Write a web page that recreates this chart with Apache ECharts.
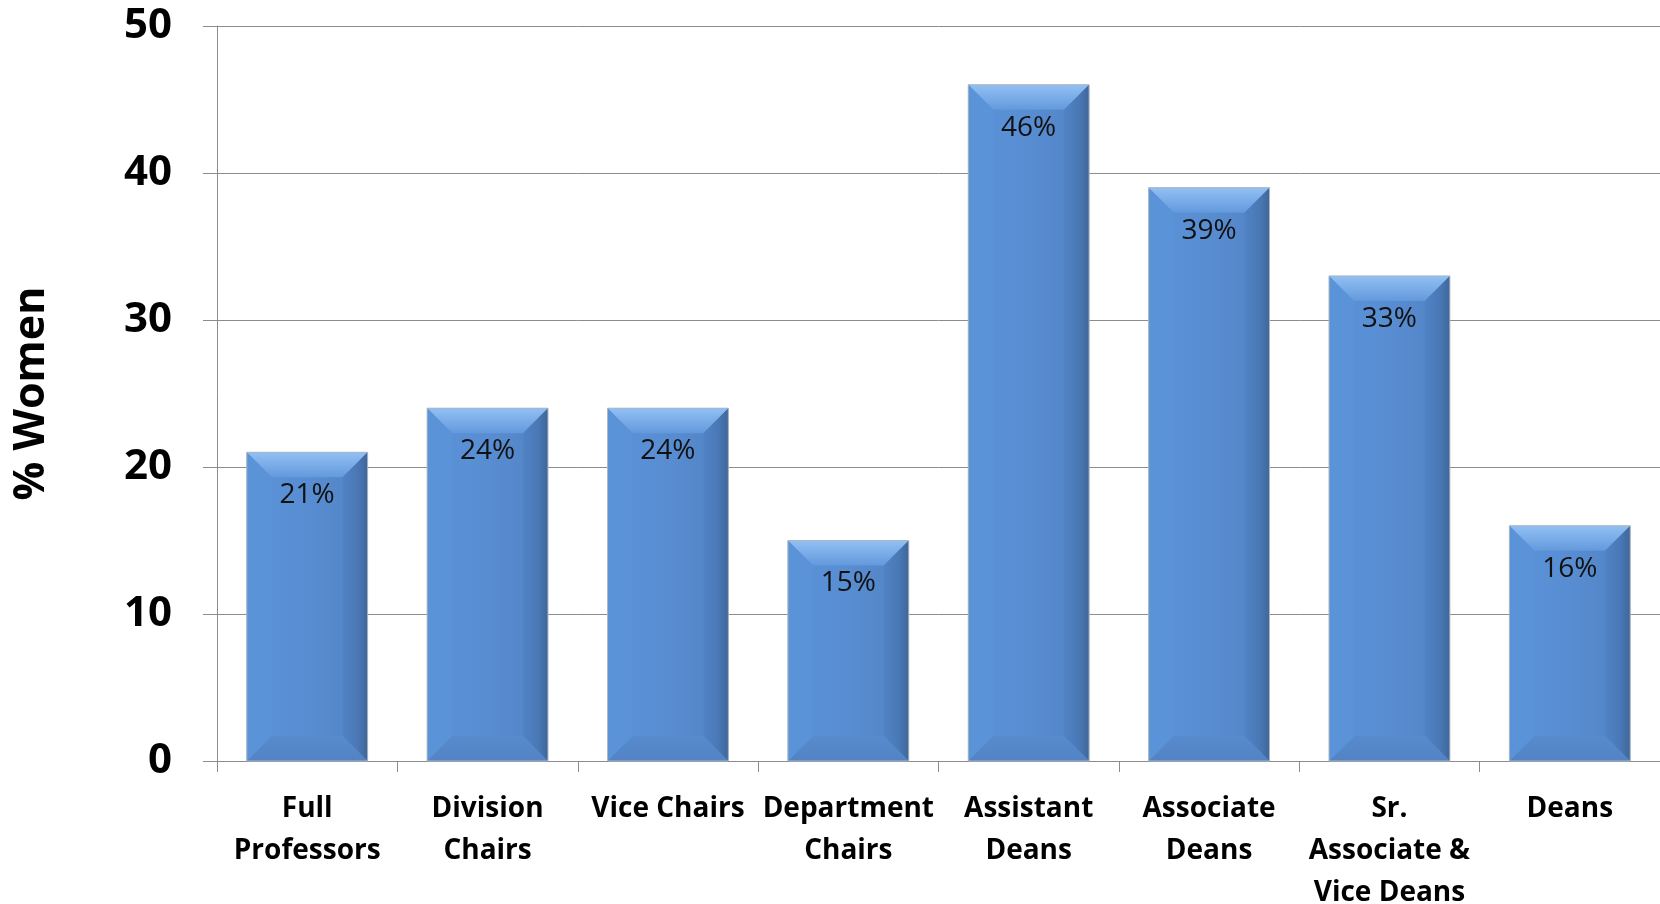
<!DOCTYPE html>
<html>
<head>
<meta charset="utf-8">
<script src="https://cdn.jsdelivr.net/npm/echarts@6/dist/echarts.min.js"></script>
<style>html,body{margin:0;padding:0;background:#fff}#c{width:1660px;height:904px}</style>
</head>
<body>
<div id="c"></div>
<script>
const categories = ["Full\nProfessors", "Division\nChairs", "Vice Chairs", "Department\nChairs", "Assistant\nDeans", "Associate\nDeans", "Sr.\nAssociate &\nVice Deans", "Deans"];
const values = [21, 24, 24, 15, 46, 39, 33, 16];
const yTicks = [0, 10, 20, 30, 40, 50];

const chart = echarts.init(document.getElementById('c'));
const FONT = '"Open Sans", "Noto Sans", sans-serif';

function renderItem(params, api) {
  const idx = api.value(0);
  const val = api.value(1);
  const top = api.coord([idx, val]);
  const bot = api.coord([idx, 0]);
  const catW = api.size([1, 0])[0];
  const w = catW * 0.67;
  const x0 = top[0] - w / 2, x1 = top[0] + w / 2;
  const y0 = top[1], y1 = bot[1];
  const b = Math.min(25, (y1 - y0) / 2);
  return {
    type: 'group',
    children: [
      { type: 'rect', shape: { x: x0, y: y0, width: w, height: y1 - y0 },
        style: { fill: new echarts.graphic.LinearGradient(0, 0, 1, 0, [
          { offset: 0, color: '#5b93d8' }, { offset: 0.5, color: '#588dd2' }, { offset: 0.8, color: '#5487c9' }, { offset: 1, color: '#4f7fbf' }]) } },
      { type: 'polygon', shape: { points: [[x0, y0], [x1, y0], [x1 - b, y0 + b], [x0 + b, y0 + b]] },
        style: { fill: new echarts.graphic.LinearGradient(0, 0, 0, 1, [
          { offset: 0, color: '#92c0f4' }, { offset: 1, color: '#6399dc' }]) } },
      { type: 'polygon', shape: { points: [[x1, y0], [x1, y1], [x1 - b, y1 - b], [x1 - b, y0 + b]] },
        style: { fill: new echarts.graphic.LinearGradient(0, 0, 1, 0, [
          { offset: 0, color: '#5083c4' }, { offset: 0.6, color: '#4a78b6' }, { offset: 1, color: '#3f6698' }]) } },
      { type: 'polygon', shape: { points: [[x0, y1], [x1, y1], [x1 - b, y1 - b], [x0 + b, y1 - b]] },
        style: { fill: new echarts.graphic.LinearGradient(0, 0, 0, 1, [
          { offset: 0, color: '#578bcd' }, { offset: 1, color: '#5283c4' }]) } },
      { type: 'polygon', shape: { points: [[x0, y0], [x0 + b, y0 + b], [x0 + b, y1 - b], [x0, y1]] },
        style: { fill: '#5b93d8' } },
      { type: 'rect', shape: { x: x0, y: y0, width: w, height: y1 - y0 },
        style: { fill: 'none', stroke: '#adb7c4', lineWidth: 1 } },
      { type: 'text', style: { text: val + '%', x: top[0], y: y0 + 43, align: 'center', verticalAlign: 'middle',
        font: '28px ' + FONT, fill: '#111' } }
    ]
  };
}

chart.setOption({
  animation: false,
  grid: { left: 217, right: 0, top: 26, bottom: 143, containLabel: false, outerBoundsMode: 'none' },
  xAxis: {
    type: 'category',
    data: categories,
    axisLine: { lineStyle: { color: '#8c8c8c', width: 1 } },
    axisTick: { show: true, length: 11, lineStyle: { color: '#8c8c8c' } },
    axisLabel: { interval: 0, margin: 27, fontFamily: FONT, fontWeight: 'bold', fontSize: 28, lineHeight: 42, color: '#000' }
  },
  yAxis: {
    type: 'value',
    min: yTicks[0], max: yTicks[yTicks.length - 1], interval: 10,
    name: '% Women',
    nameLocation: 'middle',
    nameGap: 164,
    nameRotate: 90,
    nameTextStyle: { fontFamily: FONT, fontWeight: 'bold', fontSize: 43, color: '#000' },
    axisLine: { show: true, lineStyle: { color: '#8c8c8c', width: 1 } },
    axisTick: { show: true, length: 14, lineStyle: { color: '#8c8c8c' } },
    splitLine: { lineStyle: { color: '#8c8c8c', width: 1 } },
    axisLabel: { margin: 45, fontFamily: FONT, fontWeight: 'bold', fontSize: 42, color: '#000' }
  },
  series: [{
    type: 'custom',
    renderItem: renderItem,
    data: values.map((v, i) => [i, v]),
    encode: { x: 0, y: 1 }
  }]
});
</script>
</body>
</html>
